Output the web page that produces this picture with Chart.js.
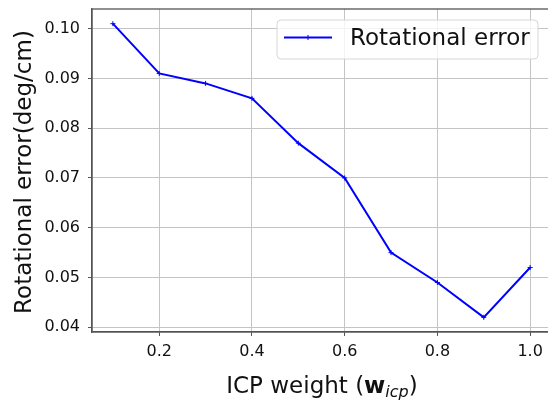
<!DOCTYPE html>
<html>
<head>
<meta charset="utf-8">
<script src="https://cdn.jsdelivr.net/npm/chart.js@4.4.1/dist/chart.umd.min.js"></script>
<style>
  html, body { margin: 0; padding: 0; background: #fff; overflow: hidden; }
  #wrap { width: 560px; height: 404px; }
</style>
</head>
<body>
<div id="wrap"><canvas id="chart" width="560" height="404"></canvas></div>
<script>
// ICP weight vs rotational error
const icpWeights = [0.1, 0.2, 0.3, 0.4, 0.5, 0.6, 0.7, 0.8, 0.9, 1.0];
const rotErrors = [0.101, 0.091, 0.089, 0.086, 0.077, 0.070, 0.055, 0.049, 0.042, 0.052];
const xTicks = [0.2, 0.4, 0.6, 0.8, 1.0];
const yTicks = [0.04, 0.05, 0.06, 0.07, 0.08, 0.09, 0.10];
const seriesLabel = "Rotational error";

const FONT = "'DejaVu Sans', sans-serif";
const SPINE = "#555";
const GRID = "#c4c4c4";

// draws the box spines, axis titles and the framed legend like matplotlib
const decorations = {
  id: "decorations",
  afterDraw(chart) {
    const { ctx, chartArea: a } = chart;
    ctx.save();
    ctx.strokeStyle = SPINE;
    ctx.lineWidth = 1.3;
    ctx.strokeRect(a.left, a.top, a.right - a.left, a.bottom - a.top);

    // y title
    ctx.fillStyle = "#111";
    ctx.font = "23px " + FONT;
    ctx.textAlign = "center";
    ctx.textBaseline = "middle";
    ctx.save();
    ctx.translate(25, 172);
    ctx.rotate(-Math.PI / 2);
    ctx.fillText("Rotational error(deg/cm)", 0, 0);
    ctx.restore();

    // x title with bold w and italic subscript
    const parts = [
      { t: "ICP weight (", f: "23px " + FONT, dy: 0 },
      { t: "w", f: "bold 23px " + FONT, dy: 0 },
      { t: "icp", f: "italic 16px " + FONT, dy: 4 },
      { t: ")", f: "23px " + FONT, dy: 0 },
    ];
    let total = 0;
    parts.forEach((p) => { ctx.font = p.f; p.w = ctx.measureText(p.t).width; total += p.w; });
    let x = 322 - total / 2;
    ctx.textAlign = "left";
    ctx.textBaseline = "alphabetic";
    parts.forEach((p) => { ctx.font = p.f; ctx.fillText(p.t, x, 393 + p.dy); x += p.w; });

    // legend
    const lx = 277, ly = 20, lw = 261, lh = 39;
    ctx.beginPath();
    ctx.roundRect(lx, ly, lw, lh, 4);
    ctx.fillStyle = "rgba(255,255,255,0.8)";
    ctx.fill();
    ctx.strokeStyle = "#d6d6d6";
    ctx.lineWidth = 1;
    ctx.stroke();
    const ds = chart.data.datasets[0];
    ctx.strokeStyle = ds.borderColor;
    ctx.lineWidth = 2;
    ctx.beginPath();
    ctx.moveTo(284, 37.5);
    ctx.lineTo(332, 37.5);
    ctx.stroke();
    ctx.lineWidth = 1;
    ctx.beginPath();
    ctx.moveTo(305.5, 37.5); ctx.lineTo(310.5, 37.5);
    ctx.moveTo(308, 35); ctx.lineTo(308, 40);
    ctx.stroke();
    ctx.fillStyle = "#111";
    ctx.font = "23px " + FONT;
    ctx.textBaseline = "middle";
    ctx.fillText(ds.label, 350, 39);
    ctx.restore();
  },
};

new Chart(document.getElementById("chart"), {
  type: "line",
  data: {
    datasets: [
      {
        label: seriesLabel,
        data: icpWeights.map((w, i) => ({ x: w, y: rotErrors[i] })),
        borderColor: "#0000ff",
        backgroundColor: "#0000ff",
        borderWidth: 2,
        pointStyle: "cross",
        pointRadius: 2.5,
        pointBorderWidth: 1,
        tension: 0,
      },
    ],
  },
  options: {
    responsive: false,
    animation: false,
    layout: { padding: { left: 0, top: 9, right: 9, bottom: 0 } },
    plugins: { legend: { display: false }, tooltip: { enabled: false } },
    scales: {
      x: {
        type: "linear",
        min: 0.055,
        max: 1.045,
        afterBuildTicks: (s) => { s.ticks = xTicks.map((v) => ({ value: v })); },
        afterFit: (s) => { s.height = 72; s.paddingLeft = 0; s.paddingRight = 0; },
        grid: { color: GRID, lineWidth: 1, tickColor: SPINE, tickLength: 4 },
        border: { color: SPINE, width: 1.3 },
        ticks: {
          color: "#111",
          font: { family: FONT, size: 16 },
          padding: 6,
          maxRotation: 0,
          callback: (v) => Number(v).toFixed(1),
        },
      },
      y: {
        min: 0.03905,
        max: 0.10395,
        afterBuildTicks: (s) => { s.ticks = yTicks.map((v) => ({ value: v })); },
        afterFit: (s) => { s.width = 92; s.paddingTop = 0; s.paddingBottom = 0; },
        grid: { color: GRID, lineWidth: 1, tickColor: SPINE, tickLength: 4 },
        border: { color: SPINE, width: 1.3 },
        ticks: {
          color: "#111",
          font: { family: FONT, size: 16 },
          padding: 8,
          callback: (v) => Number(v).toFixed(2),
        },
      },
    },
  },
  plugins: [decorations],
});
</script>
</body>
</html>
